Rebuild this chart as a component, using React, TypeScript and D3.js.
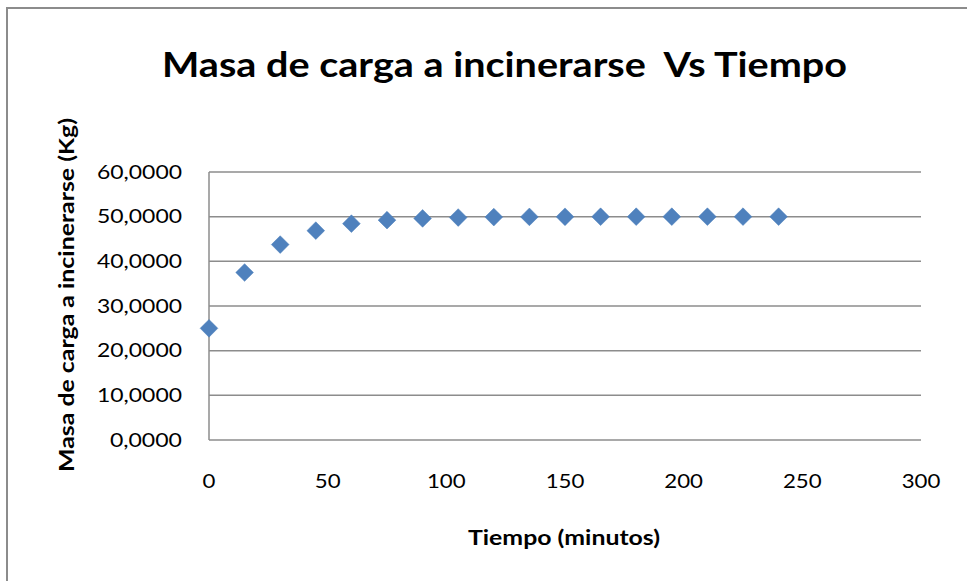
import React from "react";
import * as d3 from "d3";

// Time in minutes and mass of the load still to be incinerated (kg)
const tiempo = [0, 15, 30, 45, 60, 75, 90, 105, 120, 135, 150, 165, 180, 195, 210, 225, 240];
const masa = [
  25.0, 37.5, 43.75, 46.875, 48.4375, 49.2188, 49.6094, 49.8047, 49.9023,
  49.9512, 49.9756, 49.9878, 49.9939, 49.9969, 49.9985, 49.9992, 49.9996,
];
const xTicks = [0, 50, 100, 150, 200, 250, 300];
const yTicks = [0, 10, 20, 30, 40, 50, 60];

const titulo = "Masa de carga a incinerarse  Vs Tiempo";
const tituloX = "Tiempo (minutos)";
const tituloY = "Masa de carga a incinerarse (Kg)";

const W = 967;
const H = 581;
const plot = { left: 209, right: 921, top: 172, bottom: 440 };
const font = "Lato, 'Open Sans', 'DejaVu Sans', sans-serif";

// Approximate label widths for the wide, stretched tick font
const labelWidth = (s: string) =>
  Array.from(s).reduce((w, c) => w + (c === "," ? 7.6 : 12.9), 0);

const fmtY = (v: number) => v.toFixed(4).replace(".", ",");

export default function App() {
  const x = d3.scaleLinear().domain([0, 300]).range([plot.left, plot.right]);
  const y = d3.scaleLinear().domain([0, 60]).range([plot.bottom, plot.top]);
  const diamond = d3.symbol().type(d3.symbolDiamond2).size(200)();
  const points = tiempo.map((t, i) => ({ t, m: masa[i] }));

  return (
    <svg
      width={W}
      height={H}
      style={{ position: "absolute", left: 0, top: 0, background: "#fff" }}
      fontFamily={font}
    >
      {/* chart frame */}
      <rect x={7} y={8} width={W + 20} height={H + 20} fill="#fff" stroke="#8c8c8c" strokeWidth={2} />

      <text
        x={504.5}
        y={76.7}
        textAnchor="middle"
        fontSize={35}
        fontWeight="bold"
        textLength={685}
        lengthAdjust="spacingAndGlyphs"
        fill="#000"
        style={{ whiteSpace: "pre" }}
      >
        {titulo}
      </text>

      {/* horizontal gridlines */}
      {yTicks.map((v) => (
        <line
          key={"g" + v}
          x1={plot.left}
          x2={plot.right}
          y1={y(v)}
          y2={y(v)}
          stroke="#8c8c8c"
          strokeWidth={1.5}
        />
      ))}
      {/* value axis line */}
      <line x1={plot.left} x2={plot.left} y1={plot.top} y2={plot.bottom} stroke="#8c8c8c" strokeWidth={1.5} />

      {/* y tick labels */}
      {yTicks.map((v) => {
        const s = fmtY(v);
        return (
          <text
            key={"y" + v}
            x={182}
            y={y(v) + 6.5}
            textAnchor="end"
            fontSize={18.5}
            textLength={labelWidth(s)}
            lengthAdjust="spacingAndGlyphs"
            fill="#000"
          >
            {s}
          </text>
        );
      })}

      {/* x tick labels */}
      {xTicks.map((v) => {
        const s = String(v);
        return (
          <text
            key={"x" + v}
            x={x(v)}
            y={488}
            textAnchor="middle"
            fontSize={18.5}
            textLength={labelWidth(s)}
            lengthAdjust="spacingAndGlyphs"
            fill="#000"
          >
            {s}
          </text>
        );
      })}

      {/* axis titles */}
      <text
        x={564}
        y={545}
        textAnchor="middle"
        fontSize={21.5}
        fontWeight="bold"
        textLength={192}
        lengthAdjust="spacingAndGlyphs"
        fill="#000"
      >
        {tituloX}
      </text>
      <text
        transform={`translate(74,295) rotate(-90)`}
        textAnchor="middle"
        fontSize={21}
        fontWeight="bold"
        textLength={354}
        lengthAdjust="spacingAndGlyphs"
        fill="#000"
      >
        {tituloY}
      </text>

      {/* data markers */}
      {points.map((p) => (
        <path
          key={"p" + p.t}
          d={diamond ?? ""}
          transform={`translate(${x(p.t)},${y(p.m)})`}
          fill="#4f81bd"
          stroke="#4a7ebb"
          strokeWidth={0.5}
        />
      ))}
    </svg>
  );
}
